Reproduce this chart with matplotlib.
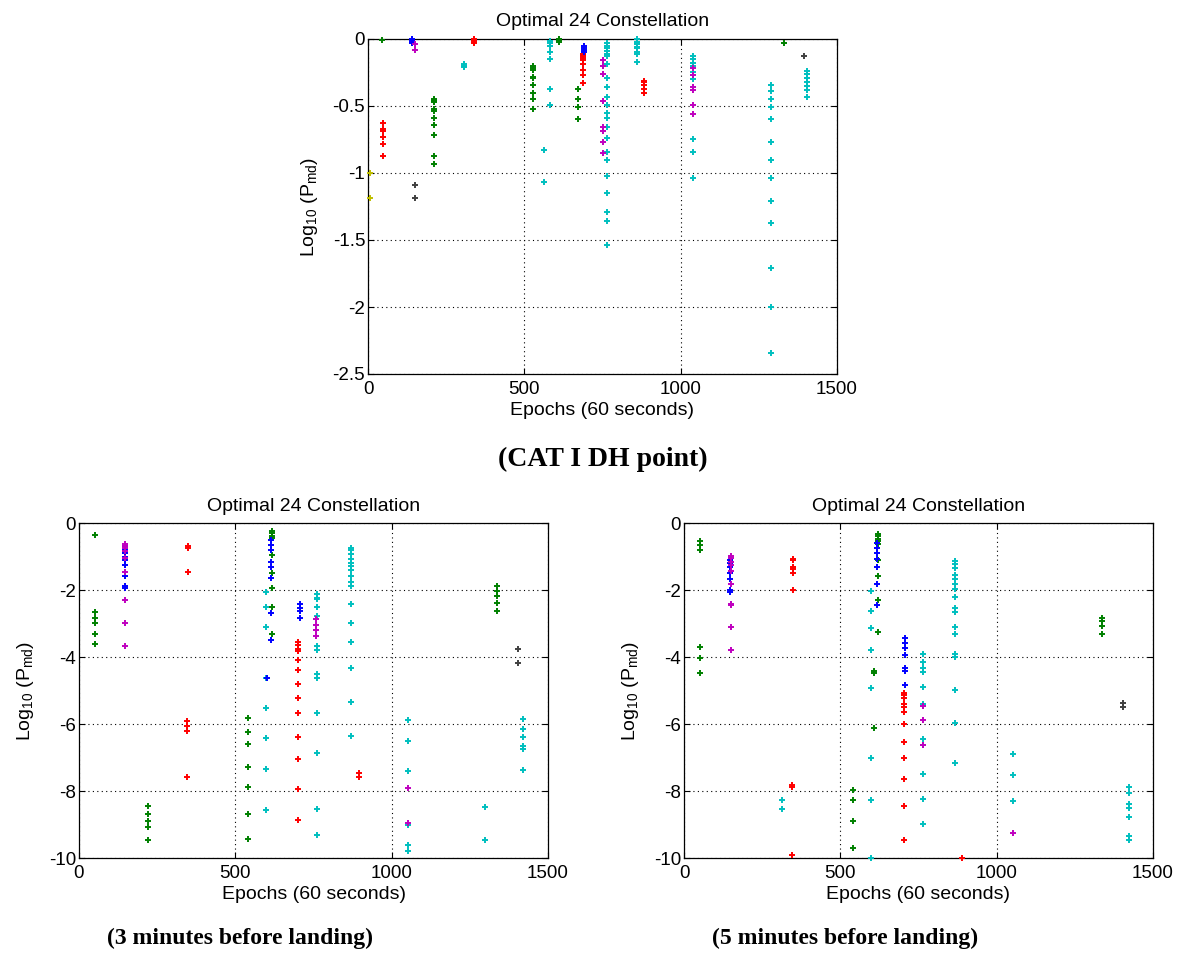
import matplotlib
matplotlib.use("Agg")
import matplotlib.pyplot as plt

# ---------------- data: (epoch, [log10 Pmd values]) columns per colour ----------------
title_text = "Optimal 24 Constellation"
xlabel_text = "Epochs (60 seconds)"
ylabel_text = r"Log$_{10}$ (P$_{md}$)"
captions = ["(CAT I DH point)", "(3 minutes before landing)", "(5 minutes before landing)"]

top_green = [(45, [-0.005]),
             (212, [-0.445, -0.455, -0.465, -0.47, -0.525, -0.54, -0.59, -0.64, -0.72, -0.87, -0.93]),
             (527, [-0.2, -0.215, -0.235, -0.28, -0.29, -0.34, -0.4, -0.45, -0.52]),
             (612, [-0.0, -0.005, -0.01, -0.02]),
             (673, [-0.37, -0.45, -0.51, -0.6]),
             (1330, [-0.03])]
top_red = [(48, [-0.63, -0.67, -0.69, -0.73, -0.78, -0.87]),
           (340, [-0.0, -0.01, -0.02, -0.03]),
           (688, [-0.11, -0.12, -0.13, -0.14, -0.16, -0.19, -0.23, -0.27, -0.33]),
           (882, [-0.31, -0.32, -0.34, -0.37, -0.4])]
top_blue = [(140, [-0.0, -0.01, -0.02, -0.03]),
            (690, [-0.05, -0.07, -0.08, -0.1])]
top_purple = [(150, [-0.04, -0.08]),
              (750, [-0.16, -0.2, -0.26, -0.46, -0.66, -0.69, -0.77, -0.85]),
              (1040, [-0.22, -0.27, -0.36, -0.38, -0.49, -0.56])]
top_cyan = [(306, [-0.19, -0.2, -0.21]),
            (583, [-0.015, -0.03, -0.05, -0.1, -0.15, -0.37, -0.49]),
            (564, [-0.83, -1.07]),
            (765, [-0.03, -0.05, -0.07, -0.09, -0.11, -0.13, -0.19, -0.29, -0.36, -0.43, -0.49,
                   -0.555, -0.59, -0.66, -0.74, -0.84, -0.9, -1.02, -1.15, -1.29, -1.36, -1.54]),
            (860, [-0.0, -0.02, -0.03, -0.04, -0.06, -0.07, -0.1, -0.11, -0.17]),
            (1040, [-0.13, -0.15, -0.18, -0.2, -0.25, -0.3, -0.75, -0.84, -1.04]),
            (1290, [-0.34, -0.39, -0.45, -0.51, -0.6, -0.77, -0.9, -1.04, -1.21, -1.37, -1.71, -2.0, -2.34]),
            (1405, [-0.24, -0.26, -0.29, -0.32, -0.35, -0.38, -0.43])]
top_gray = [(150, [-1.09, -1.19]), (1394, [-0.13])]
top_yellow = [(5, [-1.0, -1.19])]

m3_green = [(51, [-0.35]),
            (50, [-2.65, -2.83, -2.98, -3.32, -3.62]),
            (221, [-8.45, -8.68, -8.9, -9.07, -9.45]),
            (540, [-5.81, -6.23, -6.61, -7.28, -7.87, -8.7, -9.44]),
            (617, [-0.24, -0.3, -0.38, -0.45, -0.96, -1.5, -1.93, -2.5, -3.3]),
            (1336, [-1.88, -2.03, -2.18, -2.38, -2.63])]
m3_blue = [(148, [-0.7, -0.8, -0.9, -1.0, -1.1, -1.25, -1.58, -1.88, -1.93]),
           (615, [-0.5, -0.65, -0.8, -1.15, -1.3, -1.65, -2.7, -3.5]),
           (601, [-4.62]),
           (706, [-2.43, -2.53, -2.63, -2.83])]
m3_purple = [(146, [-0.63, -0.7, -0.75, -0.85, -1.05, -1.45, -2.3, -2.98, -3.67]),
             (758, [-2.86, -3.04, -3.2, -3.38]),
             (1052, [-7.92, -8.95])]
m3_red = [(349, [-0.7, -0.75, -1.45]),
          (344, [-5.91, -6.05, -6.21, -7.58]),
          (699, [-3.54, -3.65, -3.75, -3.82, -4.09, -4.4, -4.82, -5.21, -5.68, -6.38, -7.04, -7.95, -8.86]),
          (894, [-7.45, -7.58])]
m3_cyan = [(598, [-2.05, -2.5, -3.1, -4.62, -5.53, -6.43, -7.35, -8.58]),
           (762, [-2.13, -2.23, -2.27, -2.5, -2.78, -3.67, -3.8, -4.5, -4.62, -5.66, -6.87, -8.55, -9.31]),
           (870, [-0.74, -0.81, -0.93, -1.08, -1.18, -1.28, -1.41, -1.58, -1.75, -1.88, -2.41, -2.98,
                  -3.55, -4.34, -5.35, -6.36]),
           (1052, [-5.89, -6.51, -7.4, -9.0, -9.6, -9.8]),
           (1300, [-8.47, -9.46]),
           (1420, [-5.84, -6.16, -6.39, -6.66, -6.76, -7.38])]
m3_gray = [(1404, [-3.77, -4.17])]

m5_green = [(51, [-0.54, -0.66, -0.82, -3.69, -4.02, -4.47]),
            (540, [-7.97, -8.28, -8.91, -9.7]),
            (608, [-4.42, -4.49, -6.13]),
            (619, [-0.33, -0.4, -0.48, -0.55, -0.63, -1.1, -1.59, -2.3, -3.25]),
            (1336, [-2.85, -2.93, -3.07, -3.3])]
m5_blue = [(147, [-1.1, -1.2, -1.3, -1.5, -1.68, -2.01, -2.05]),
           (617, [-0.6, -0.75, -0.9, -1.07, -1.32, -1.81, -2.46]),
           (707, [-3.44, -3.57, -3.72, -3.95, -4.34, -4.42, -4.85])]
m5_purple = [(150, [-0.99, -1.05, -1.15, -1.25, -1.43, -1.83, -2.41, -2.45, -3.1, -3.8]),
             (763, [-5.46, -5.87, -6.64]),
             (1052, [-9.26])]
m5_red = [(349, [-1.07, -1.1, -1.3, -1.37, -1.48, -2.0]),
          (344, [-7.82, -7.88, -9.9]),
          (705, [-5.06, -5.13, -5.21, -5.41, -5.49, -5.63, -5.99, -6.53, -7.02, -7.63, -8.46, -9.46]),
          (890, [-10.0])]
m5_cyan = [(598, [-2.03, -2.64, -3.12, -3.8, -4.92, -7.02, -8.28, -10.0]),
           (313, [-8.26, -8.55]),
           (763, [-3.92, -4.14, -4.32, -4.45, -4.89, -5.39, -6.46, -6.64, -7.48, -8.23, -8.98]),
           (868, [-1.13, -1.21, -1.35, -1.55, -1.66, -1.81, -1.98, -2.2, -2.53, -2.65, -3.1, -3.32,
                  -3.92, -4.0, -4.99, -5.96, -7.17]),
           (1052, [-6.89, -7.53, -8.31]),
           (1423, [-7.87, -8.05, -8.4, -8.5, -8.78, -9.34, -9.47])]
m5_gray = [(1404, [-5.36, -5.49])]

x_ticks = [0, 500, 1000, 1500]
top_yticks = [-2.5, -2, -1.5, -1, -0.5, 0]
top_yticklabels = ["-2.5", "-2", "-1.5", "-1", "-0.5", "0"]
bot_yticks = [-10, -8, -6, -4, -2, 0]

# ---------------- styling ----------------
C = {"green": (0.0, 0.5, 0.0), "red": (1.0, 0.0, 0.0), "blue": (0.0, 0.0, 1.0),
     "purple": (0.75, 0.0, 0.75), "cyan": (0.0, 0.75, 0.75), "gray": (0.25, 0.25, 0.25),
     "yellow": (0.75, 0.75, 0.0)}

plt.rcParams["font.family"] = ["Liberation Sans", "DejaVu Sans"]
plt.rcParams["mathtext.fontset"] = "custom"
plt.rcParams["mathtext.rm"] = "Liberation Sans"
plt.rcParams["mathtext.it"] = "Liberation Sans"

fig = plt.figure(figsize=(11.85, 9.63), dpi=100)
W, H = 1185, 963


def make_ax(left_px, top_px, w_px, h_px):
    return fig.add_axes([left_px / W, 1 - (top_px + h_px) / H, w_px / W, h_px / H])


def expand(cols):
    xs, ys = [], []
    for x, vals in cols:
        xs += [x] * len(vals)
        ys += vals
    return xs, ys


def draw(ax, series, yticks, ylabels):
    for cname, cols in series:
        xs, ys = expand(cols)
        ax.plot(xs, ys, linestyle="none", marker="+", markersize=4, markeredgewidth=1.4,
                color=C[cname], clip_on=False, zorder=3)
    ax.set_xlim(0, 1500)
    ax.set_ylim(yticks[0], yticks[-1])
    ax.set_xticks(x_ticks)
    ax.set_yticks(yticks)
    ax.set_yticklabels(ylabels)
    ax.grid(True, color="black", linestyle=(0, (1, 3)), linewidth=0.8)
    ax.tick_params(direction="in", labelsize=13.5, length=4, top=True, right=True,
                   labeltop=False, labelright=False)
    ax.tick_params(axis="x", pad=5)
    ax.tick_params(axis="y", pad=2)
    for s in ax.spines.values():
        s.set_linewidth(0.9)
    ax.set_title(title_text, fontsize=14, pad=9)
    ax.set_xlabel(xlabel_text, fontsize=14, labelpad=3)
    ax.set_ylabel(ylabel_text, fontsize=14, labelpad=9)


ax_top = make_ax(368, 39, 469, 335)
draw(ax_top, [("green", top_green), ("red", top_red), ("cyan", top_cyan), ("blue", top_blue),
              ("purple", top_purple), ("gray", top_gray), ("yellow", top_yellow)],
     top_yticks, top_yticklabels)

ax_l = make_ax(79, 523, 469, 335)
draw(ax_l, [("green", m3_green), ("red", m3_red), ("cyan", m3_cyan), ("blue", m3_blue),
            ("purple", m3_purple), ("gray", m3_gray)],
     bot_yticks, [str(v) for v in bot_yticks])

ax_r = make_ax(684, 523, 469, 335)
draw(ax_r, [("green", m5_green), ("red", m5_red), ("cyan", m5_cyan), ("blue", m5_blue),
            ("purple", m5_purple), ("gray", m5_gray)],
     bot_yticks, [str(v) for v in bot_yticks])

cap_kw = dict(ha="center", va="center", fontweight="bold",
              family=["Liberation Serif", "DejaVu Serif"])
fig.text(603 / W, 1 - 459 / H, captions[0], fontsize=20, **cap_kw)
fig.text(240 / W, 1 - 938 / H, captions[1], fontsize=17, **cap_kw)
fig.text(845 / W, 1 - 938 / H, captions[2], fontsize=17, **cap_kw)

fig.savefig("out.png", dpi=100, facecolor="white")
